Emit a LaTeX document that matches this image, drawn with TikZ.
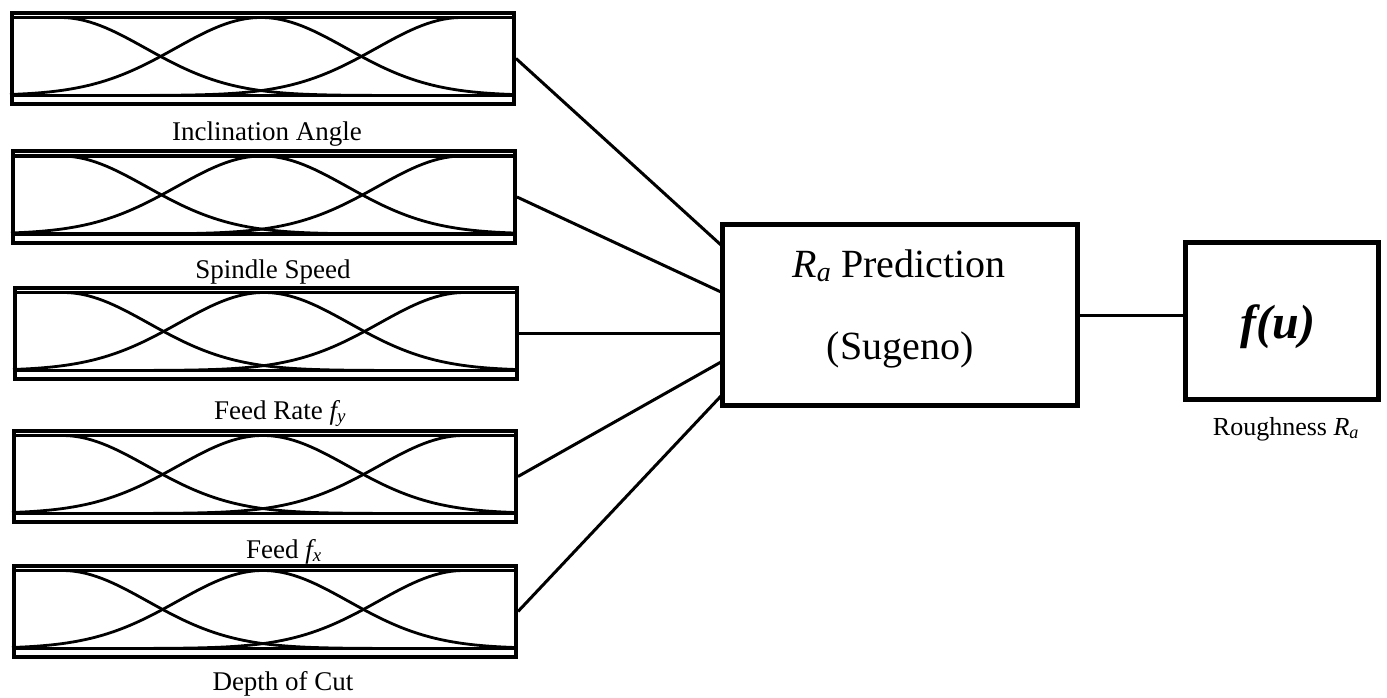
\documentclass[tikz,border=0pt]{standalone}
\usepackage{fontspec}
\setmainfont{Liberation Serif}
\newcommand\mfcurves[1]{%
  \begin{scope}[shift={(#1.north west)}]
    \draw[inline] (0,6.5) -- (502,6.5);
    \draw[inline] (0,84.5) -- (502,84.5);
    \draw[mf] plot[domain=0:1,samples=90] ({502*\x}, {84.5-78*(\x<0.1 ? 1 : exp(-((\x-0.1)^2)/0.0578))});
    \draw[mf] plot[domain=0:1,samples=90] ({502*\x}, {84.5-78*exp(-((\x-0.5)^2)/0.0578)});
    \draw[mf] plot[domain=0:1,samples=90] ({502*\x}, {84.5-78*(\x>0.9 ? 1 : exp(-((\x-0.9)^2)/0.0578))});
  \end{scope}}
\begin{document}
\begin{tikzpicture}[x=1pt,y=-1pt,
  inbox/.style={draw, line width=4pt, minimum width=502pt, minimum height=91pt, inner sep=0pt},
  inline/.style={line width=3.5pt},
  mf/.style={line width=2.8pt},
  bigbox/.style={draw, line width=5.5pt, inner sep=0pt},
  conn/.style={line width=3pt},
  lbl/.style={font=\fontsize{27}{30}\selectfont, anchor=base, inner sep=0pt}]
\useasboundingbox (0,0) rectangle (1387,698);
% input boxes
\node[inbox] (b1) at (263,58.5) {};
\node[inbox] (b2) at (264,197) {};
\node[inbox] (b3) at (266,333.5) {};
\node[inbox] (b4) at (265,476.5) {};
\node[inbox] (b5) at (265,611.5) {};
\mfcurves{b1}\mfcurves{b2}\mfcurves{b3}\mfcurves{b4}\mfcurves{b5}
% labels
\node[lbl] (l1) at (267,141) {Inclination Angle};
\node[lbl] (l2) at (273,278) {Spindle Speed};
\node[lbl] (l3) at (280,419) {Feed Rate {\itshape f}\textsubscript{\itshape y}};
\node[lbl] (l4) at (284,558) {Feed {\itshape f}\textsubscript{\itshape x}};
\node[lbl] (l5) at (283,690) {Depth of Cut};
% central box
\node[bigbox, minimum width=355pt, minimum height=181pt] (c) at (900,315) {};
\node[font=\fontsize{40}{44}\selectfont, anchor=base, inner sep=0pt] (t1) at (899,277) {{\itshape R}\textsubscript{\itshape a} Prediction};
\node[font=\fontsize{40}{44}\selectfont, anchor=base, inner sep=0pt] (t2) at (900,359) {(Sugeno)};
% output box
\node[bigbox, minimum width=193pt, minimum height=157pt] (f) at (1282,321) {};
\node[font=\fontsize{48}{52}\selectfont\bfseries\itshape, anchor=base, inner sep=0pt] (ft) at (1278,338) {f(u)};
\node[font=\fontsize{26}{30}\selectfont, anchor=base, inner sep=0pt] (rl) at (1286,435) {Roughness {\itshape R}\textsubscript{\itshape a}};
% connector end points on the central box
\coordinate (in1) at (721,245);
\coordinate (in2) at (721,292);
\coordinate (in3) at (721,333.5);
\coordinate (in4) at (721,362);
\coordinate (in5) at (721,396);
\draw[conn] (b1.east) -- (in1);
\draw[conn] (b2.east) -- (in2);
\draw[conn] (b3.east) -- (in3);
\draw[conn] (b4.east) -- (in4);
\draw[conn] (b5.east) -- (in5);
\draw[conn] (c.east) -- (c.east -| f.west);
\end{tikzpicture}
\end{document}
